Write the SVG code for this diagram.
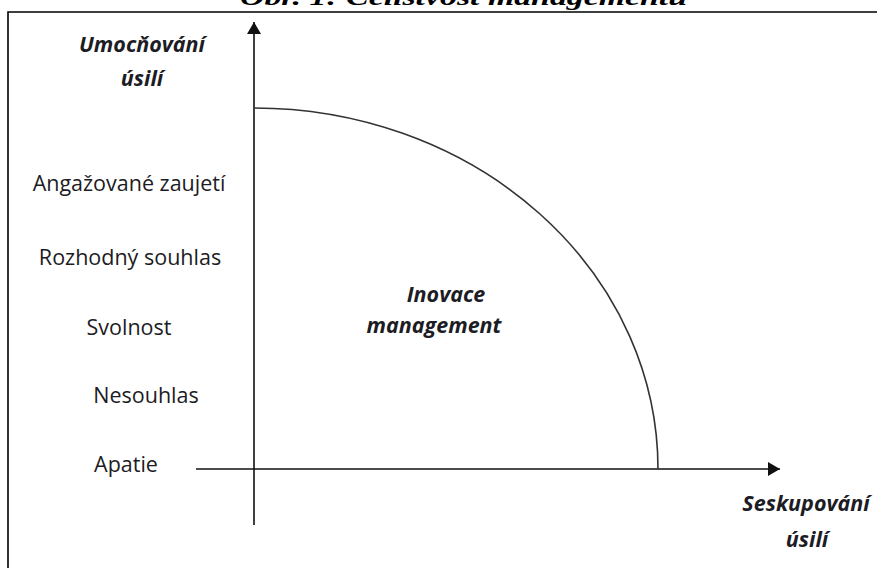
<svg xmlns="http://www.w3.org/2000/svg" width="877" height="568" viewBox="0 0 877 568">
<style>
.lbl{font-family:"Open Sans","Noto Sans",sans-serif;font-size:21.5px;fill:#1c1c24;text-anchor:middle}
.bi{font-family:"Open Sans","Noto Sans",sans-serif;font-size:21.5px;font-weight:bold;font-style:italic;fill:#1c1c24;text-anchor:middle}
.ttl{font-family:"Liberation Serif",serif;font-size:24px;font-weight:bold;font-style:italic;fill:#000}
.ax{stroke:#111;stroke-width:1.6;fill:none}
</style>
<defs>
<marker id="arr" viewBox="0 0 12 14" refX="12" refY="7" markerWidth="12" markerHeight="14" markerUnits="userSpaceOnUse" orient="auto">
<path d="M0,0 L12,7 L0,14 Z" fill="#111"/>
</marker>
</defs>
<rect width="877" height="568" fill="#fff"/>
<text class="ttl" x="240" y="5" textLength="447" lengthAdjust="spacingAndGlyphs">Obr. 1: Celistvost managementu</text>
<g id="frame">
<path d="M8,568 L8,12 L877,12" stroke="#000" stroke-width="1.6" fill="none"/>
</g>
<g id="connectors">
<line id="y-axis" class="ax" x1="254" y1="525" x2="254" y2="22" marker-end="url(#arr)"/>
<line id="x-axis" class="ax" x1="196" y1="469" x2="780" y2="469" marker-end="url(#arr)"/>
<path id="curve" d="M254,108 A404,361 0 0 1 658,469" stroke="#333" stroke-width="1.6" fill="none"/>
</g>
<g id="label-umocnovani">
<text class="bi" x="142" y="52">Umocňování</text>
<text class="bi" x="142" y="86">úsilí</text>
</g>
<g id="label-angazovane"><text class="lbl" x="129" y="191">Angažované zaujetí</text></g>
<g id="label-rozhodny"><text class="lbl" x="130" y="265">Rozhodný souhlas</text></g>
<g id="label-svolnost"><text class="lbl" x="129" y="335">Svolnost</text></g>
<g id="label-nesouhlas"><text class="lbl" x="146" y="403">Nesouhlas</text></g>
<g id="label-apatie"><text class="lbl" x="126" y="472">Apatie</text></g>
<g id="label-inovace">
<text class="bi" x="446" y="302">Inovace</text>
<text class="bi" x="434" y="333">management</text>
</g>
<g id="label-seskupovani">
<text class="bi" x="806" y="511">Seskupování</text>
<text class="bi" x="807" y="547">úsilí</text>
</g>
</svg>
